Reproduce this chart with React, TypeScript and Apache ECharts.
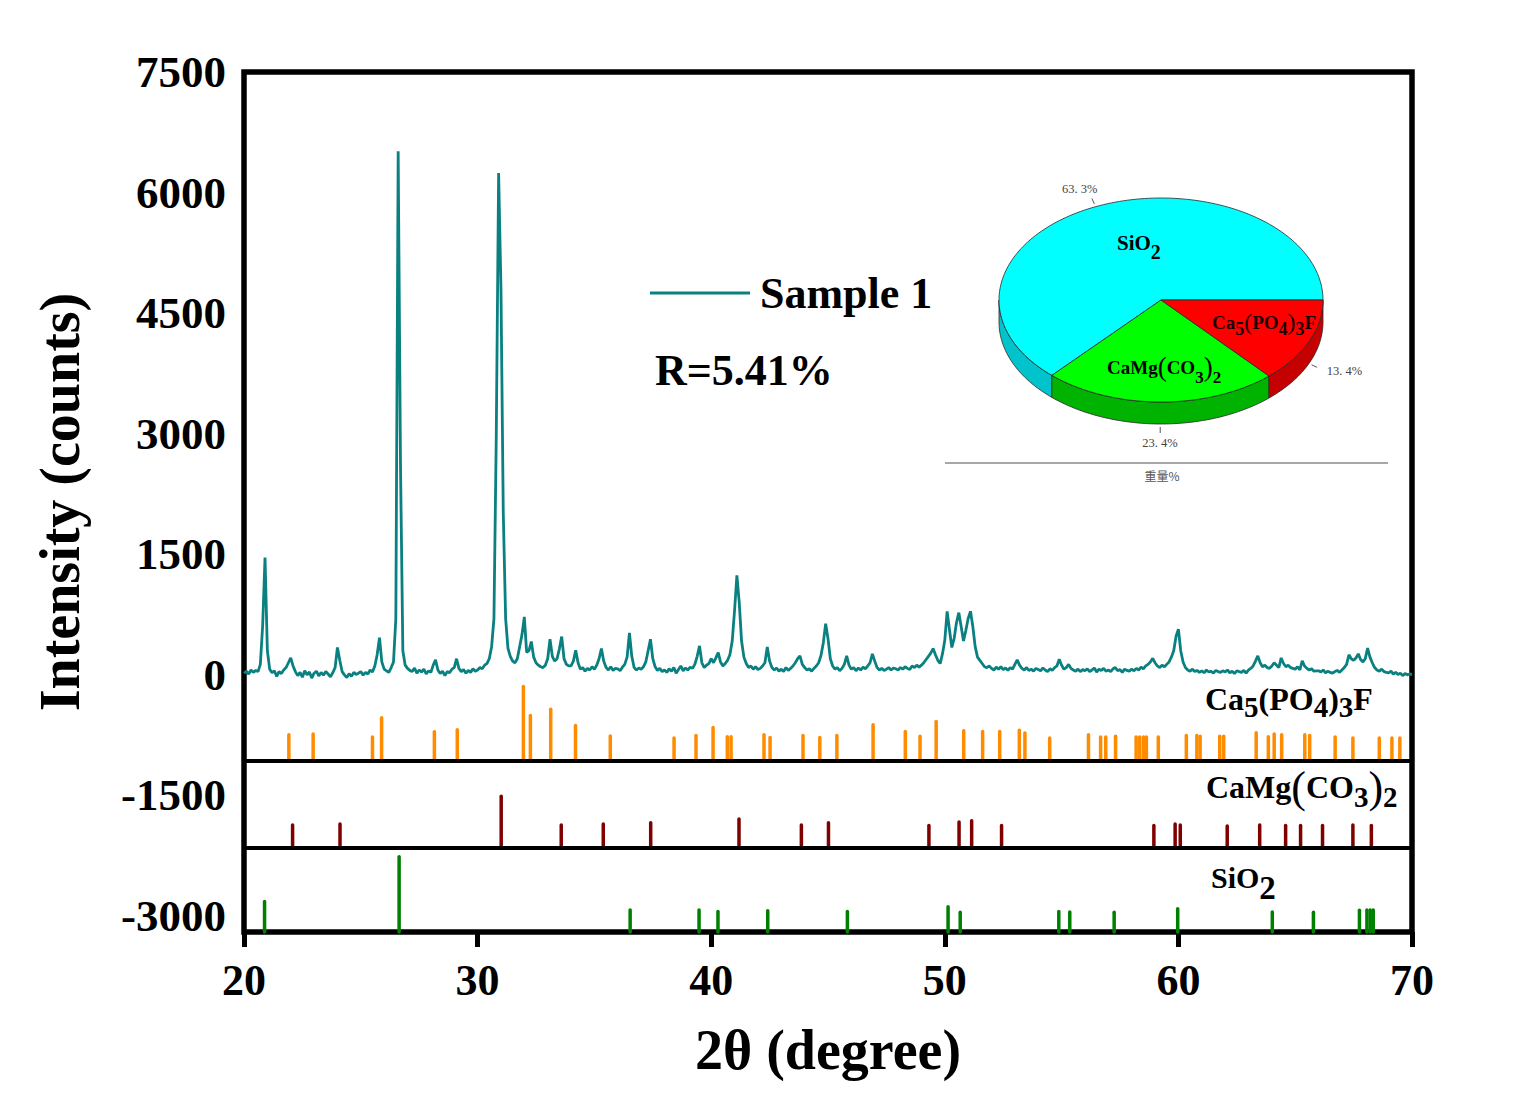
import React, { useEffect, useRef } from "react";
import * as echarts from "echarts";

const SERIF = '"Liberation Serif", "Times New Roman", serif';
const CJK = '"Noto Sans CJK SC", sans-serif';

// Step-scan settings of the diffractometer
const scanStart = 20;
const scanStep = 0.1;

// Measured counts, one row per degree (x.0 ... x.9), last value at 70.0
const sampleCounts = [
  20, 45, 10, 60, 30, 55, 40, 130, 620, 1460,
  300, 70, 25, 50, -20, 40, 15, 60, 90, 150,
  210, 110, 40, -10, 30, -30, 50, 0, 35, -40,
  20, 45, -15, 30, -5, 40, 10, -25, 25, 90,
  340, 180, 40, 0, -35, 15, -20, 30, 5, 20,
  40, -5, 30, 10, 60, 35, 110, 250, 463, 160,
  70, 50, 30, 90, 160, 700, 6515, 2600, 300, 120,
  80, 55, 40, 85, 20, 60, 35, 70, 10, 50,
  30, 120, 185, 60, 15, 45, -10, 40, 25, 70,
  90, 200, 80, 40, 65, 20, 55, 30, 75, 45,
  60, 90, 75, 120, 140, 200, 350, 700, 3000, 6242,
  4800, 2000, 700, 330, 230, 170, 150, 200, 350, 500,
  720, 280, 300, 414, 220, 150, 120, 100, 90, 120,
  200, 442, 230, 170, 200, 320, 476, 200, 130, 110,
  110, 170, 306, 150, 70, 90, 45, 80, 60, 100,
  70, 120, 200, 327, 170, 90, 60, 100, 55, 80,
  75, 50, 95, 130, 220, 520, 230, 90, 60, 85,
  70, 100, 160, 300, 442, 200, 100, 55, 80, 40,
  60, 30, 75, 45, 90, 20, 65, 110, 50, 85,
  60, 95, 80, 130, 230, 360, 150, 90, 120, 140,
  200, 150, 210, 277, 160, 110, 140, 180, 250, 420,
  800, 1237, 900, 420, 220, 140, 90, 110, 70, 100,
  65, 80, 110, 150, 347, 170, 90, 60, 85, 45,
  70, 40, 90, 55, 80, 110, 150, 200, 236, 130,
  90, 60, 75, 45, 80, 110, 150, 240, 400, 637,
  450, 200, 110, 70, 90, 50, 80, 130, 236, 120,
  70, 90, 50, 85, 60, 95, 75, 110, 150, 260,
  170, 90, 60, 80, 55, 70, 90, 60, 85, 75,
  60, 90, 70, 100, 80, 65, 110, 90, 120, 95,
  120, 150, 190, 230, 270, 327, 250, 180, 140, 260,
  430, 790, 560, 340, 450, 650, 773, 600, 420, 550,
  700, 790, 600, 350, 220, 180, 140, 100, 90, 110,
  80, 60, 95, 70, 100, 65, 85, 55, 90, 70,
  130, 185, 120, 80, 60, 90, 55, 70, 45, 80,
  65, 50, 85, 60, 40, 75, 55, 90, 110, 195,
  120, 70, 90, 130, 80, 60, 45, 70, 40, 65,
  50, 75, 40, 60, 85, 35, 70, 55, 80, 45,
  60, 40, 75, 90, 50, 65, 30, 70, 55, 45,
  70, 50, 80, 60, 95, 75, 110, 130, 160, 205,
  150, 110, 90, 120, 100, 130, 160, 220, 300, 480,
  567, 300, 160, 90, 60, 45, 70, 40, 55, 30,
  50, 25, 60, 35, 45, 20, 55, 40, 30, 50,
  35, 60, 25, 45, 15, 50, 40, 30, 55, 20,
  60, 80, 110, 170, 236, 150, 100, 120, 90, 80,
  110, 150, 120, 90, 210, 140, 100, 120, 90, 80,
  70, 100, 60, 175, 110, 80, 60, 75, 45, 50,
  50, 35, 60, 25, 45, 30, 20, 40, 55, 30,
  60, 90, 130, 250, 200, 180, 210, 260, 190, 160,
  200, 333, 220, 150, 90, 60, 45, 70, 40, 30,
  25, 45, 10, 30, 5, 20, -10, 15, 0, 10,
  5,
];

// Reference stick patterns: 2θ positions and stick heights (counts)
const apatitePos = [
  21.92, 22.96, 25.5, 25.89, 28.15, 29.13, 31.96, 32.26, 33.13, 34.19,
  35.68, 38.41, 39.35, 40.08, 40.69, 40.85, 42.26, 42.52, 43.93, 44.65,
  45.38, 46.93, 48.31, 48.94, 49.63, 50.81, 51.62, 52.35, 53.19, 53.43,
  54.49, 56.15, 56.67, 56.89, 57.31, 58.19, 58.34, 58.5, 58.63, 59.14,
  60.34, 60.79, 60.93, 61.77, 61.94, 63.33, 63.85, 64.1, 64.42, 65.41,
  65.62, 66.71, 67.47, 68.6, 69.14, 69.48,
];
const apatiteHeight = [
  330, 340, 300, 540, 365, 390, 930, 570, 645, 445,
  315, 290, 320, 420, 305, 305, 330, 295, 320, 295,
  320, 455, 370, 310, 495, 380, 370, 370, 385, 350,
  290, 330, 300, 300, 310, 300, 300, 300, 300, 300,
  320, 320, 310, 310, 310, 355, 305, 340, 330, 330,
  320, 300, 290, 290, 290, 290,
];
const dolomitePos = [
  22.08, 24.11, 31.01, 33.58, 35.38, 37.41, 41.19, 43.86, 45.02, 49.32,
  50.61, 51.15, 52.43, 58.95, 59.86, 60.08, 62.09, 63.48, 64.59, 65.23,
  66.17, 67.47, 68.26,
];
const dolomiteHeight = [
  280, 295, 640, 280, 295, 310, 355, 280, 310, 275,
  320, 335, 275, 275, 295, 280, 270, 280, 275, 275,
  275, 280, 275,
];
const quartzPos = [
  20.88, 26.64, 36.53, 39.48, 40.29, 42.42, 45.83, 50.14, 50.66, 54.88,
  55.35, 57.25, 59.97, 64.02, 65.78, 67.75, 68.07, 68.21, 68.34,
];
const quartzHeight = [
  380, 935, 275, 275, 255, 265, 255, 315, 245, 255,
  250, 245, 290, 250, 245, 270, 275, 275, 275,
];

// Axis labels
const yLabelValues = [-3000, -1500, 0, 1500, 3000, 4500, 6000, 7500];

// Quantitative phase analysis (wt%)
const phaseNames = ["SiO2", "CaMg(CO3)2", "Ca5(PO4)3F"];
const phaseShares = [63.3, 23.4, 13.4];

// Layout and colours
const TEAL = "#0a8080";
const LANE_BASE = { apatite: -1075, dolomite: -2150, quartz: -3200 };
const PIE = { cx: 1161, cy: 300, rx: 162, ry: 102, depth: 22 };
const PIE_TOP = ["#00FFFF", "#00FF00", "#FF0000"];
const PIE_SIDE = ["#00C3CC", "#00B300", "#C40000"];

function stickSeries(name: string, pos: number[], heights: number[], base: number, color: string) {
  return {
    type: "custom",
    name,
    coordinateSystem: "cartesian2d",
    silent: true,
    z: 3,
    encode: { x: 0, y: 1 },
    data: pos.map((p, i) => [p, heights[i]]),
    renderItem: (_params: any, api: any) => {
      const x = api.value(0);
      const h = api.value(1);
      const a = api.coord([x, base]);
      const b = api.coord([x, base + h]);
      return {
        type: "line",
        shape: { x1: a[0], y1: a[1], x2: b[0], y2: b[1] },
        style: { stroke: color, lineWidth: 3.5, lineCap: "round" },
      };
    },
  };
}

function formulaText(
  x: number,
  y: number,
  text: string,
  size: number,
  subSize: number,
  subDrop: number,
  parenSize: number,
  fill: string
) {
  return {
    type: "text",
    x,
    y,
    z: 20,
    style: {
      text,
      align: "left",
      verticalAlign: "middle",
      rich: {
        m: { fontFamily: SERIF, fontWeight: "bold", fontSize: size, fill },
        p: { fontFamily: SERIF, fontWeight: "normal", fontSize: parenSize, fill },
        s: { fontFamily: SERIF, fontWeight: "bold", fontSize: subSize, fill, padding: [subDrop * 2, 0, 0, 0] },
      },
    },
  };
}

export default function App() {
  const ref = useRef<HTMLDivElement>(null);

  useEffect(() => {
    if (!ref.current) return;
    const chart = echarts.init(ref.current, undefined, { renderer: "svg" });

    const sampleData = sampleCounts.map((c, i) => [
      Number((scanStart + i * scanStep).toFixed(2)),
      c,
    ]);

    const total = phaseShares.reduce((s, v) => s + v, 0);

    const pieSeries = {
      type: "custom",
      name: "phases",
      coordinateSystem: "none",
      silent: true,
      z: 10,
      data: phaseShares.map((v, i) => ({ name: phaseNames[i], value: [v] })),
      renderItem: (params: any, api: any) => {
        const i = params.dataIndex;
        let before = 0;
        for (let k = 0; k < i; k++) before += phaseShares[k];
        const share = api.value(0);
        const hi = (-2 * Math.PI * before) / total;
        const lo = hi - (2 * Math.PI * share) / total;
        const { cx, cy, rx, ry, depth } = PIE;
        const pt = (t: number, dz = 0) => [cx + rx * Math.cos(t), cy + ry * Math.sin(t) + dz];
        const arc = (a: number, b: number, dz = 0) => {
          const n = Math.max(2, Math.ceil((b - a) / (Math.PI / 120)));
          const out: number[][] = [];
          for (let k = 0; k <= n; k++) out.push(pt(a + ((b - a) * k) / n, dz));
          return out;
        };
        const children: any[] = [];
        const wlo = Math.max(lo, -2 * Math.PI);
        const whi = Math.min(hi, -Math.PI);
        if (whi > wlo) {
          children.push({
            type: "polygon",
            shape: { points: [...arc(wlo, whi), ...arc(wlo, whi, depth).reverse()] },
            style: { fill: PIE_SIDE[i], stroke: "#2a2a2a", lineWidth: 0.8 },
          });
        }
        children.push({
          type: "polygon",
          shape: { points: [[cx, cy], ...arc(lo, hi)] },
          style: { fill: PIE_TOP[i], stroke: "#2a2a2a", lineWidth: 0.8 },
        });
        const mid = (lo + hi) / 2;
        const c = Math.cos(mid);
        const s = Math.sin(mid);
        const e = pt(mid, s > 0 ? depth : 0);
        const l1 = [e[0] + c * 3, e[1] + s * 3];
        const l2 = [e[0] + c * 9, e[1] + s * 9];
        children.push({
          type: "line",
          shape: { x1: l1[0], y1: l1[1], x2: l2[0], y2: l2[1] },
          style: { stroke: "#555", lineWidth: 1 },
        });
        children.push({
          type: "text",
          x: l2[0] + c * 30,
          y: l2[1] + s * 10,
          style: {
            text: share.toFixed(1).replace(".", ". ") + "%",
            fontFamily: SERIF,
            fontSize: 12.5,
            fill: "#444",
            align: "center",
            verticalAlign: "middle",
          },
        });
        return { type: "group", children };
      },
    };

    const option: any = {
      animation: false,
      backgroundColor: "#fff",
      grid: {
        left: 244,
        right: 108,
        top: 72,
        bottom: 162,
        show: true,
        borderColor: "#000",
        borderWidth: 5.5,
        backgroundColor: "transparent",
        outerBoundsMode: "none",
        containLabel: false,
      },
      legend: {
        data: [{ name: "Sample 1", icon: "rect" }],
        left: 650,
        top: 271,
        padding: 0,
        itemWidth: 100,
        itemHeight: 3,
        selectedMode: false,
        textStyle: {
          fontFamily: SERIF,
          fontWeight: "bold",
          fontSize: 44,
          color: "#000",
          padding: [0, 0, 0, 5],
        },
      },
      xAxis: {
        type: "value",
        min: 20,
        max: 70,
        interval: 10,
        name: "2θ (degree)",
        nameLocation: "middle",
        nameGap: 90,
        nameTextStyle: { fontFamily: SERIF, fontWeight: "bold", fontSize: 56, color: "#000" },
        axisLine: { show: false, onZero: false },
        axisTick: { show: true, length: 15, lineStyle: { color: "#000", width: 5 } },
        splitLine: { show: false },
        axisLabel: {
          formatter: (v: number) => String(v),
          fontFamily: SERIF,
          fontWeight: "bold",
          fontSize: 44,
          color: "#000",
          margin: 26,
        },
      },
      yAxis: {
        type: "value",
        min: -3200,
        max: 7500,
        name: "Intensity (counts)",
        nameLocation: "middle",
        nameRotate: 90,
        nameGap: 156,
        nameTextStyle: { fontFamily: SERIF, fontWeight: "bold", fontSize: 56, color: "#000" },
        axisLine: { show: false, onZero: false },
        axisTick: { show: false },
        splitLine: { show: false },
        axisLabel: {
          customValues: yLabelValues,
          formatter: (v: number) => String(v),
          fontFamily: SERIF,
          fontWeight: "bold",
          fontSize: 45,
          color: "#000",
          margin: 18,
        },
      },
      series: [
        {
          type: "line",
          name: "Sample 1",
          data: sampleData,
          showSymbol: false,
          symbol: "none",
          color: TEAL,
          itemStyle: { color: TEAL },
          lineStyle: { color: TEAL, width: 2.8 },
          z: 4,
          markLine: {
            silent: true,
            symbol: "none",
            label: { show: false },
            lineStyle: { color: "#000", width: 4, type: "solid" },
            data: [{ yAxis: LANE_BASE.apatite }, { yAxis: LANE_BASE.dolomite }],
          },
        },
        stickSeries("Ca5(PO4)3F", apatitePos, apatiteHeight, LANE_BASE.apatite, "#FF8C00"),
        stickSeries("CaMg(CO3)2", dolomitePos, dolomiteHeight, LANE_BASE.dolomite, "#800000"),
        stickSeries("SiO2", quartzPos, quartzHeight, LANE_BASE.quartz, "#008000"),
        pieSeries,
      ],
      graphic: [
        {
          type: "text",
          x: 655,
          y: 370,
          z: 20,
          style: {
            text: "R=5.41%",
            fontFamily: SERIF,
            fontWeight: "bold",
            fontSize: 44,
            fill: "#000",
            verticalAlign: "middle",
          },
        },
        // phase labels of the stick lanes
        formulaText(1205, 699, "{m|Ca}{s|5}{m|(PO}{s|4}{m|)}{s|3}{m|F}", 32, 29, 8, 32, "#000"),
        formulaText(1206, 787, "{m|CaMg}{p|(}{m|CO}{s|3}{p|)}{s|2}", 32, 29, 10, 44, "#000"),
        formulaText(1211, 877, "{m|SiO}{s|2}", 30, 33, 11, 30, "#000"),
        // slice labels of the inset pie
        formulaText(1117, 243, "{m|SiO}{s|2}", 21, 20, 9, 21, "#000"),
        formulaText(1212, 322, "{m|Ca}{s|5}{p|(}{m|PO}{s|4}{p|)}{s|3}{m|F}", 19, 18, 7, 24, "#1a0000"),
        formulaText(1107, 367, "{m|CaMg}{p|(}{m|CO}{s|3}{p|)}{s|2}", 19, 17, 10, 27, "#000"),
        {
          type: "line",
          z: 20,
          shape: { x1: 945, y1: 463, x2: 1388, y2: 463 },
          style: { stroke: "#8a8a8a", lineWidth: 1.5 },
        },
        {
          type: "text",
          x: 1162,
          y: 475,
          z: 20,
          style: {
            text: "重量%",
            fontFamily: CJK,
            fontSize: 12,
            fill: "#555",
            align: "center",
            verticalAlign: "middle",
          },
        },
      ],
    };

    chart.setOption(option);
    return () => {
      chart.dispose();
    };
  }, []);

  return (
    <div
      ref={ref}
      style={{ position: "fixed", left: 0, top: 0, width: 1520, height: 1094, background: "#fff" }}
    />
  );
}
